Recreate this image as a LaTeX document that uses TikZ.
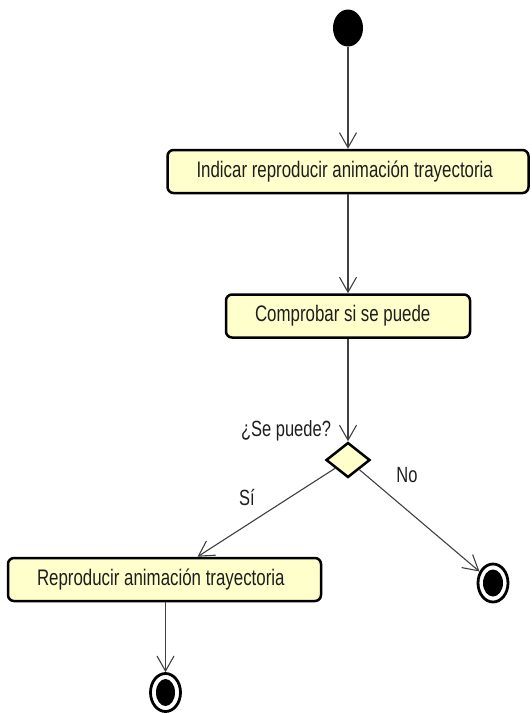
\documentclass[tikz,border=0pt]{standalone}
\usepackage{fontspec}
\setmainfont[FakeStretch=0.75]{Liberation Sans}
\usetikzlibrary{arrows.meta,shapes.geometric,calc}

\definecolor{actfill}{HTML}{FFFFCB}
\definecolor{flowline}{HTML}{404040}
\definecolor{inktext}{HTML}{1E1E1E}

\tikzset{
  actbox/.style={rectangle, rounded corners=6pt, draw=black, line width=2.5pt,
    fill=actfill, minimum height=43pt, inner xsep=29pt, inner ysep=0pt,
    align=left, text=inktext, font=\fontsize{22.5}{26}\selectfont,
    execute at begin node={\spaceskip=0pt\xspaceskip=0pt\relax}},
  startnode/.style={ellipse, fill=black, minimum width=30pt, minimum height=37pt, inner sep=0pt},
  endnode/.style={ellipse, draw=black, line width=2.8pt, fill=white,
    minimum width=30pt, minimum height=38pt, inner sep=0pt},
  decision/.style={diamond, draw=black, line width=2.5pt, fill=actfill,
    minimum width=44pt, minimum height=35pt, inner sep=0pt},
  flow/.style={draw=flowline, line width=1.1pt,
    -{Straight Barb[length=15pt,width=17pt,line width=1.1pt]}},
  guard/.style={text=inktext, font=\fontsize{22}{26}\selectfont, inner sep=0pt}
}

\begin{document}
\begin{tikzpicture}[x=1pt,y=-1pt]
  \useasboundingbox (0,0) rectangle (531,713);

  % nodes
  \node[startnode] (start) at (348,28) {};
  \node[actbox, text width=303pt] (indicar) at (348,171.5) {\mbox{Indicar reproducir animación trayectoria}};
  \node[actbox, text width=186pt] (comprobar) at (348,316) {\mbox{Comprobar si se puede}};
  \node[decision] (dec) at (348,460) {};
  \node[actbox, text width=255pt] (reproducir) at (164.5,579.5) {\mbox{Reproducir animación trayectoria}};
  \node[endnode] (endno) at (493,583) {};
  \node[endnode] (endsi) at (165.5,692.5) {};
  \fill (endno.center) ellipse [x radius=10pt, y radius=13.5pt];
  \fill (endsi.center) ellipse [x radius=9.5pt, y radius=13.5pt];

  \coordinate (reprtop) at ($(reproducir.north)+(33,0)$);

  % guards
  \node[guard] (qlabel) at (286,431) {¿Se puede?};
  \node[guard] (silabel) at (247,497) {Sí};
  \node[guard] (nolabel) at (407,475) {No};

  % control flows
  \draw[flow] (start.south) -- (indicar.north);
  \draw[flow] (indicar.south) -- (comprobar.north);
  \draw[flow] (comprobar.south) -- (dec.north);
  \draw[flow] (dec) -- (reprtop);
  \draw[flow] (dec) -- (endno);
  \draw[flow] (reproducir.south -| endsi.north) -- (endsi.north);
\end{tikzpicture}
\end{document}
